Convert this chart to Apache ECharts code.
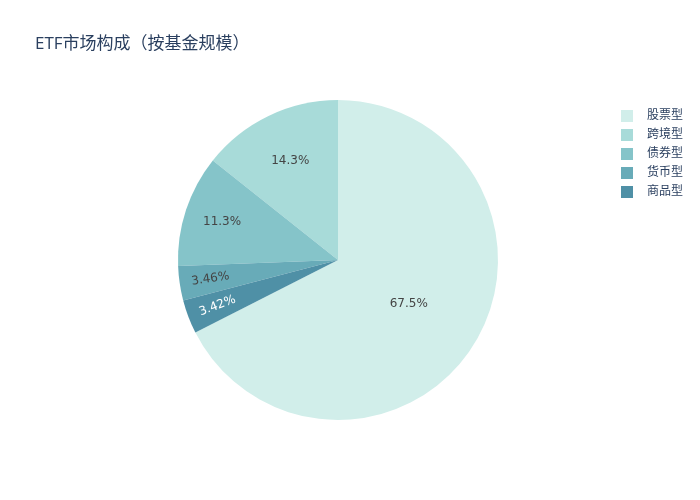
<!DOCTYPE html>
<html>
<head>
<meta charset="utf-8">
<script src="https://cdn.jsdelivr.net/npm/echarts@6/dist/echarts.min.js"></script>
<style>
html,body{margin:0;padding:0;background:#fff;}
#main{width:700px;height:500px;}
</style>
</head>
<body>
<div id="main"></div>
<script>
const titleText = 'ETF市场构成（按基金规模）';
const categories = ['股票型', '跨境型', '债券型', '货币型', '商品型'];
const values = [67.5, 14.3, 11.3, 3.46, 3.42];
const colors = ['#d1eeea', '#a8dbd9', '#85c4c9', '#68abb8', '#4f90a6'];
const labelColors = ['#444', '#444', '#444', '#444', '#fff'];

const FONT = '"Open Sans", "Noto Sans CJK SC", sans-serif';
const LABEL_FONT = '"DejaVu Sans", sans-serif';
const total = values.reduce((a, b) => a + b, 0);
const startAngle = 90 - 360 * values[0] / total;
const R = 160;

function buildData(showSet, transparent, rotate) {
  return categories.map((name, i) => ({
    name: name,
    value: values[i],
    itemStyle: { color: transparent ? 'rgba(0,0,0,0)' : colors[i] },
    label: {
      show: showSet.includes(i),
      color: labelColors[i],
      rotate: rotate || 0
    }
  }));
}

const common = {
  type: 'pie',
  center: [338, 260],
  clockwise: false,
  startAngle: startAngle,
  avoidLabelOverlap: false,
  labelLine: { show: false },
  emphasis: { disabled: true },
  label: {
    position: 'inside',
    fontSize: 12,
    fontFamily: LABEL_FONT,
    formatter: p => p.value + '%'
  }
};

function labelRing(show, inner, rotate) {
  return Object.assign({}, common, {
    radius: [inner, R],
    silent: true,
    data: buildData(show, true, rotate)
  });
}

const chart = echarts.init(document.getElementById('main'));
chart.setOption({
  backgroundColor: '#fff',
  animation: false,
  title: {
    text: titleText,
    left: 30,
    top: 31,
    textStyle: { fontSize: 17, fontWeight: 'normal', color: '#2a3f5f', fontFamily: FONT }
  },
  legend: {
    orient: 'vertical',
    left: 616,
    top: 105,
    icon: 'rect',
    itemWidth: 12,
    itemHeight: 12,
    itemGap: 7,
    selectedMode: false,
    data: categories.map((n, i) => ({ name: n, itemStyle: { color: colors[i] } })),
    textStyle: { fontSize: 12, color: '#2a3f5f', fontFamily: FONT, lineHeight: 12, padding: [0, 0, 0, 9] }
  },
  series: [
    Object.assign({}, common, {
      radius: R,
      data: buildData([0], false)
    }),
    labelRing([1], 54),
    labelRing([2], 78),
    labelRing([3, 4], 92, 'radial')
  ]
});
</script>
</body>
</html>
